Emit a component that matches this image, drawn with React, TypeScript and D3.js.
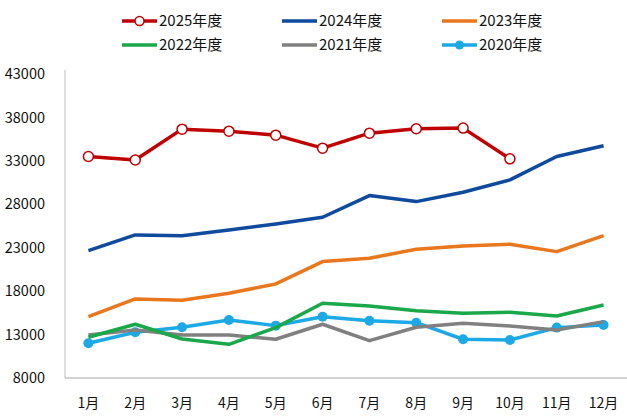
import React, { useEffect, useRef } from 'react';
import * as d3 from 'd3';

const months = ['1月', '2月', '3月', '4月', '5月', '6月', '7月', '8月', '9月', '10月', '11月', '12月'];
const yTicks = [8000, 13000, 18000, 23000, 28000, 33000, 38000, 43000];

const y2025 = [33500, 33100, 36650, 36420, 35960, 34460, 36190, 36690, 36770, 33230];
const y2024 = [22670, 24470, 24390, 25050, 25740, 26510, 29000, 28310, 29390, 30810, 33500, 34730];
const y2023 = [15060, 17100, 16950, 17760, 18830, 21400, 21790, 22830, 23210, 23400, 22550, 24390];
const y2022 = [12690, 14190, 12490, 11880, 13800, 16600, 16300, 15750, 15450, 15570, 15140, 16410];
const y2021 = [12950, 13530, 12950, 12950, 12460, 14190, 12300, 13840, 14300, 13990, 13530, 14490];
const y2020 = [12000, 13260, 13840, 14680, 14030, 15060, 14600, 14370, 12460, 12380, 13800, 14100];

interface Series {
  name: string;
  values: number[];
  color: string;
  marker: 'none' | 'hollow' | 'filled';
}

const series: Series[] = [
  { name: '2025年度', values: y2025, color: '#C00000', marker: 'hollow' },
  { name: '2024年度', values: y2024, color: '#0F4A9C', marker: 'none' },
  { name: '2023年度', values: y2023, color: '#E8771E', marker: 'none' },
  { name: '2022年度', values: y2022, color: '#1AA84B', marker: 'none' },
  { name: '2021年度', values: y2021, color: '#808080', marker: 'none' },
  { name: '2020年度', values: y2020, color: '#1DA9E6', marker: 'filled' },
];

const FONT = '"Noto Sans CJK SC", "Noto Sans", sans-serif';

export default function App() {
  const svgRef = useRef<SVGSVGElement>(null);

  useEffect(() => {
    if (!svgRef.current) return;
    const svg = d3.select(svgRef.current);
    svg.selectAll('*').remove();

    const left = 65;
    const right = 627;
    const top = 74;
    const bottom = 378;

    const x = d3.scaleBand<string>().domain(months).range([left, right]);
    const y = d3.scaleLinear().domain([8000, 43000]).range([bottom, top]);
    const cx = (i: number) => (x(months[i]) ?? 0) + x.bandwidth() / 2;

    svg.append('rect').attr('width', 627).attr('height', 418).attr('fill', '#fff');

    // axes lines
    svg.append('line')
      .attr('x1', left).attr('x2', left).attr('y1', top - 4).attr('y2', bottom)
      .attr('stroke', '#C8C8C8').attr('stroke-width', 1.2);
    svg.append('line')
      .attr('x1', left).attr('x2', right).attr('y1', bottom).attr('y2', bottom)
      .attr('stroke', '#A6A6A6').attr('stroke-width', 1.2);

    // y tick labels
    svg.append('g').selectAll('text').data(yTicks).enter().append('text')
      .attr('x', 45)
      .attr('y', d => y(d))
      .attr('dy', '0.35em')
      .attr('text-anchor', 'end')
      .attr('font-family', FONT)
      .attr('font-size', 14.5)
      .attr('fill', '#111')
      .text(d => String(d));

    // x tick labels
    svg.append('g').selectAll('text').data(months).enter().append('text')
      .attr('x', (d, i) => cx(i))
      .attr('y', 403)
      .attr('dy', '0.35em')
      .attr('text-anchor', 'middle')
      .attr('font-family', FONT)
      .attr('font-size', 14)
      .attr('fill', '#111')
      .text(d => d);

    const line = d3.line<number>().x((_, i) => cx(i)).y(d => y(d));

    // draw in reverse so 2025 sits on top
    [...series].reverse().forEach(s => {
      svg.append('path')
        .attr('d', line(s.values) ?? '')
        .attr('fill', 'none')
        .attr('stroke', s.color)
        .attr('stroke-width', 3.5)
        .attr('stroke-linejoin', 'round');
      if (s.marker !== 'none') {
        svg.append('g').selectAll('circle').data(s.values).enter().append('circle')
          .attr('cx', (_, i) => cx(i))
          .attr('cy', d => y(d))
          .attr('r', 5)
          .attr('fill', s.marker === 'hollow' ? '#fff' : s.color)
          .attr('stroke', s.color)
          .attr('stroke-width', s.marker === 'hollow' ? 1.5 : 0);
      }
    });

    // legend
    const legend = svg.append('g');
    series.forEach((s, i) => {
      const col = i % 3;
      const row = Math.floor(i / 3);
      const lx = 122 + col * 160;
      const ly = 21 + row * 24;
      legend.append('line')
        .attr('x1', lx).attr('x2', lx + 35).attr('y1', ly).attr('y2', ly)
        .attr('stroke', s.color).attr('stroke-width', 3.5);
      if (s.marker !== 'none') {
        legend.append('circle')
          .attr('cx', lx + 17.5).attr('cy', ly).attr('r', 4.5)
          .attr('fill', s.marker === 'hollow' ? '#fff' : s.color)
          .attr('stroke', s.color)
          .attr('stroke-width', s.marker === 'hollow' ? 1.5 : 0);
      }
      legend.append('text')
        .attr('x', lx + 37)
        .attr('y', ly)
        .attr('dy', '0.35em')
        .attr('font-family', FONT)
        .attr('font-size', 15)
        .attr('fill', '#111')
        .text(s.name);
    });
  }, []);

  return (
    <div style={{ position: 'fixed', left: 0, top: 0, width: 627, height: 418, background: '#fff' }}>
      <svg ref={svgRef} width={627} height={418} viewBox="0 0 627 418" style={{ display: 'block' }} />
    </div>
  );
}
